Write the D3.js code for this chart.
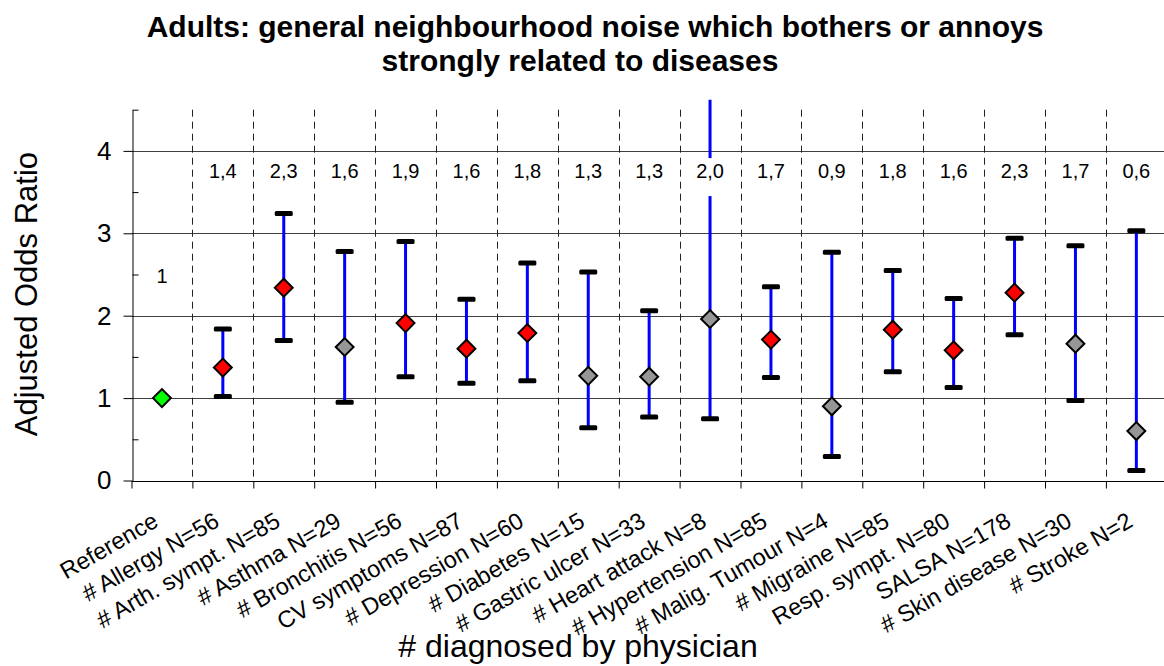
<!DOCTYPE html>
<html>
<head>
<meta charset="utf-8">
<script src="https://cdn.jsdelivr.net/npm/d3@7"></script>
<style>
  html, body { margin: 0; padding: 0; background: #fff; }
  svg { display: block; font-family: Arial, "Liberation Sans", sans-serif; }
</style>
</head>
<body>
<svg id="chart" width="1164" height="666"></svg>
<script>
// Diagnoses (x categories), in plotting order
const categories = [
  "Reference", "# Allergy N=56", "# Arth. sympt. N=85", "# Asthma N=29",
  "# Bronchitis N=56", "CV symptoms N=87", "# Depression N=60", "# Diabetes N=15",
  "# Gastric ulcer N=33", "# Heart attack N=8", "# Hypertension N=85",
  "# Malig. Tumour N=4", "# Migraine N=85", "Resp. sympt. N=80", "SALSA N=178",
  "# Skin disease N=30", "# Stroke N=2"
];
// Adjusted odds ratios (point estimates)
const oddsRatio = [1.00, 1.37, 2.34, 1.62, 1.91, 1.60, 1.79, 1.27, 1.26, 1.96, 1.71, 0.90, 1.83, 1.58, 2.28, 1.66, 0.60];
// 95% confidence interval, lower and upper bounds (none for the reference group)
const lowerCI = [null, 1.02, 1.70, 0.95, 1.26, 1.18, 1.21, 0.64, 0.77, 0.75, 1.25, 0.29, 1.32, 1.13, 1.77, 0.97, 0.12];
const upperCI = [null, 1.84, 3.24, 2.78, 2.90, 2.20, 2.64, 2.53, 2.06, 5.00, 2.35, 2.77, 2.55, 2.21, 2.94, 2.85, 3.03];
// Y axis ticks
const yTicks = [0, 1, 2, 3, 4];
const yMinorTicks = [0.5, 1.5, 2.5, 3.5, 4.5];

const titleLines = [
  "Adults: general neighbourhood noise which bothers or annoys",
  "strongly related to diseases"
];
const yTitle = "Adjusted Odds Ratio";
const xTitle = "# diagnosed by physician";

const rows = categories.map((c, i) => ({
  cat: c, or: oddsRatio[i], lo: lowerCI[i], hi: upperCI[i], i
}));

const FONT = "Arial, 'Liberation Sans', sans-serif";
const svg = d3.select("#chart");
const W = 1164, H = 666;
const plot = { left: 131.5, right: 1166.8, top: 109.7, bottom: 480.5 };

const x = d3.scaleBand().domain(categories).range([plot.left, plot.right]).paddingInner(0).paddingOuter(0);
const xEdge = d3.scaleLinear().domain([0, categories.length]).range([plot.left, plot.right]);
const y = d3.scaleLinear().domain([0, 4.5]).range([plot.bottom, plot.top]);
const cx = d => x(d) + x.bandwidth() / 2;

const comma = d3.formatLocale({ decimal: ",", thousands: ".", grouping: [3], currency: ["", ""] });
const fmt1 = comma.format(".1f");
const labelText = d => d.lo == null ? String(d.or) : fmt1(d.or);

// green = reference group, red = CI entirely above 1, grey = CI includes 1
const colorOf = d => d.lo == null ? "#00ff00" : (d.lo >= 1 ? "#ff0000" : "#969696");

// clip region (bars may run slightly above the top of the value axis)
svg.append("clipPath").attr("id", "plotClip")
  .append("rect")
  .attr("x", plot.left).attr("y", y(4.62))
  .attr("width", plot.right - plot.left).attr("height", plot.bottom - y(4.62));

// horizontal gridlines
svg.append("g").selectAll("line").data(yTicks.filter(t => t > 0)).join("line")
  .attr("x1", plot.left).attr("x2", W)
  .attr("y1", d => Math.round(y(d)) + 0.5).attr("y2", d => Math.round(y(d)) + 0.5)
  .attr("stroke", "#404040").attr("stroke-width", 1);

// dashed category separators
svg.append("g").selectAll("line").data(d3.range(1, categories.length)).join("line")
  .attr("x1", d => Math.round(xEdge(d)) + 0.5).attr("x2", d => Math.round(xEdge(d)) + 0.5)
  .attr("y1", plot.top).attr("y2", plot.bottom)
  .attr("stroke", "#222").attr("stroke-width", 1).attr("stroke-dasharray", "7,5");

// x axis: line and ticks at category boundaries
const xAxis = d3.axisBottom(xEdge).tickValues(d3.range(0, categories.length)).tickSize(7).tickSizeOuter(0).tickFormat("");
const gx = svg.append("g").attr("transform", `translate(0,${Math.round(plot.bottom) + 0.5})`).call(xAxis);
gx.select(".domain").attr("stroke", "#000").attr("d", `M${plot.left},0H${W}`);
gx.selectAll(".tick line").attr("stroke", "#000");

// y axis: major ticks outside, minor ticks inside
const yAxis = d3.axisLeft(y).tickValues(yTicks).tickSize(9).tickSizeOuter(0).tickPadding(12).tickFormat(d3.format("d"));
const gy = svg.append("g").attr("transform", `translate(${Math.round(plot.left) + 0.5},0)`).call(yAxis);
gy.select(".domain").attr("stroke", "#000");
gy.selectAll(".tick line").attr("stroke", "#000");
gy.selectAll(".tick text").attr("font-size", 26).attr("fill", "#000").attr("font-family", FONT);
const yMinor = d3.axisRight(y).tickValues(yMinorTicks).tickSize(6).tickSizeOuter(0).tickFormat("");
const gym = svg.append("g").attr("transform", `translate(${Math.round(plot.left) + 0.5},0)`).call(yMinor);
gym.select(".domain").remove();
gym.selectAll(".tick line").attr("stroke", "#000");

// error bars
const bars = svg.append("g").attr("clip-path", "url(#plotClip)")
  .selectAll("g").data(rows.filter(d => d.lo != null)).join("g");
bars.append("line")
  .attr("x1", d => cx(d.cat)).attr("x2", d => cx(d.cat))
  .attr("y1", d => y(d.lo)).attr("y2", d => y(d.hi))
  .attr("stroke", "#0000ff").attr("stroke-width", 3);
["lo", "hi"].forEach(k => {
  bars.append("rect")
    .attr("x", d => cx(d.cat) - 9)
    .attr("y", d => y(d[k]) - 2.5)
    .attr("width", 18).attr("height", 5).attr("rx", 1.5)
    .attr("fill", "#000");
});

// value labels with white backing
const labels = svg.append("g").selectAll("g").data(rows).join("g")
  .attr("transform", d => `translate(${cx(d.cat)},${d.lo == null ? y(2.4) : y(3.67)})`);
labels.append("rect")
  .attr("x", -19).attr("y", -20).attr("width", 38).attr("height", 38)
  .attr("fill", "#fff");
labels.append("text")
  .attr("text-anchor", "middle")
  .attr("font-size", 20).attr("fill", "#000")
  .text(labelText);

// point estimates
svg.append("g").selectAll("path").data(rows).join("path")
  .attr("d", d3.symbol(d3.symbolSquare, 160))
  .attr("transform", d => `translate(${cx(d.cat)},${y(d.or)}) rotate(45)`)
  .attr("fill", colorOf).attr("stroke", "#000").attr("stroke-width", 2);

// category labels
svg.append("g").selectAll("text").data(categories).join("text")
  .attr("transform", d => `translate(${cx(d) - 2},${plot.bottom + 45}) rotate(-30)`)
  .attr("text-anchor", "end")
  .attr("font-size", 23.5).attr("fill", "#000")
  .text(d => d);

// titles
svg.append("g").selectAll("text").data(titleLines).join("text")
  .attr("x", (d, i) => i === 0 ? 595 : 580)
  .attr("y", (d, i) => 37 + i * 34)
  .attr("text-anchor", "middle")
  .attr("font-size", 30).attr("font-weight", "bold").attr("fill", "#000")
  .text(d => d);

svg.append("text")
  .attr("transform", `translate(37,${(plot.top + plot.bottom) / 2 - 1}) rotate(-90)`)
  .attr("text-anchor", "middle")
  .attr("font-size", 31).attr("fill", "#000")
  .text(yTitle);

svg.append("text")
  .attr("x", 578).attr("y", 657)
  .attr("text-anchor", "middle")
  .attr("font-size", 32).attr("fill", "#000")
  .text(xTitle);
</script>
</body>
</html>
